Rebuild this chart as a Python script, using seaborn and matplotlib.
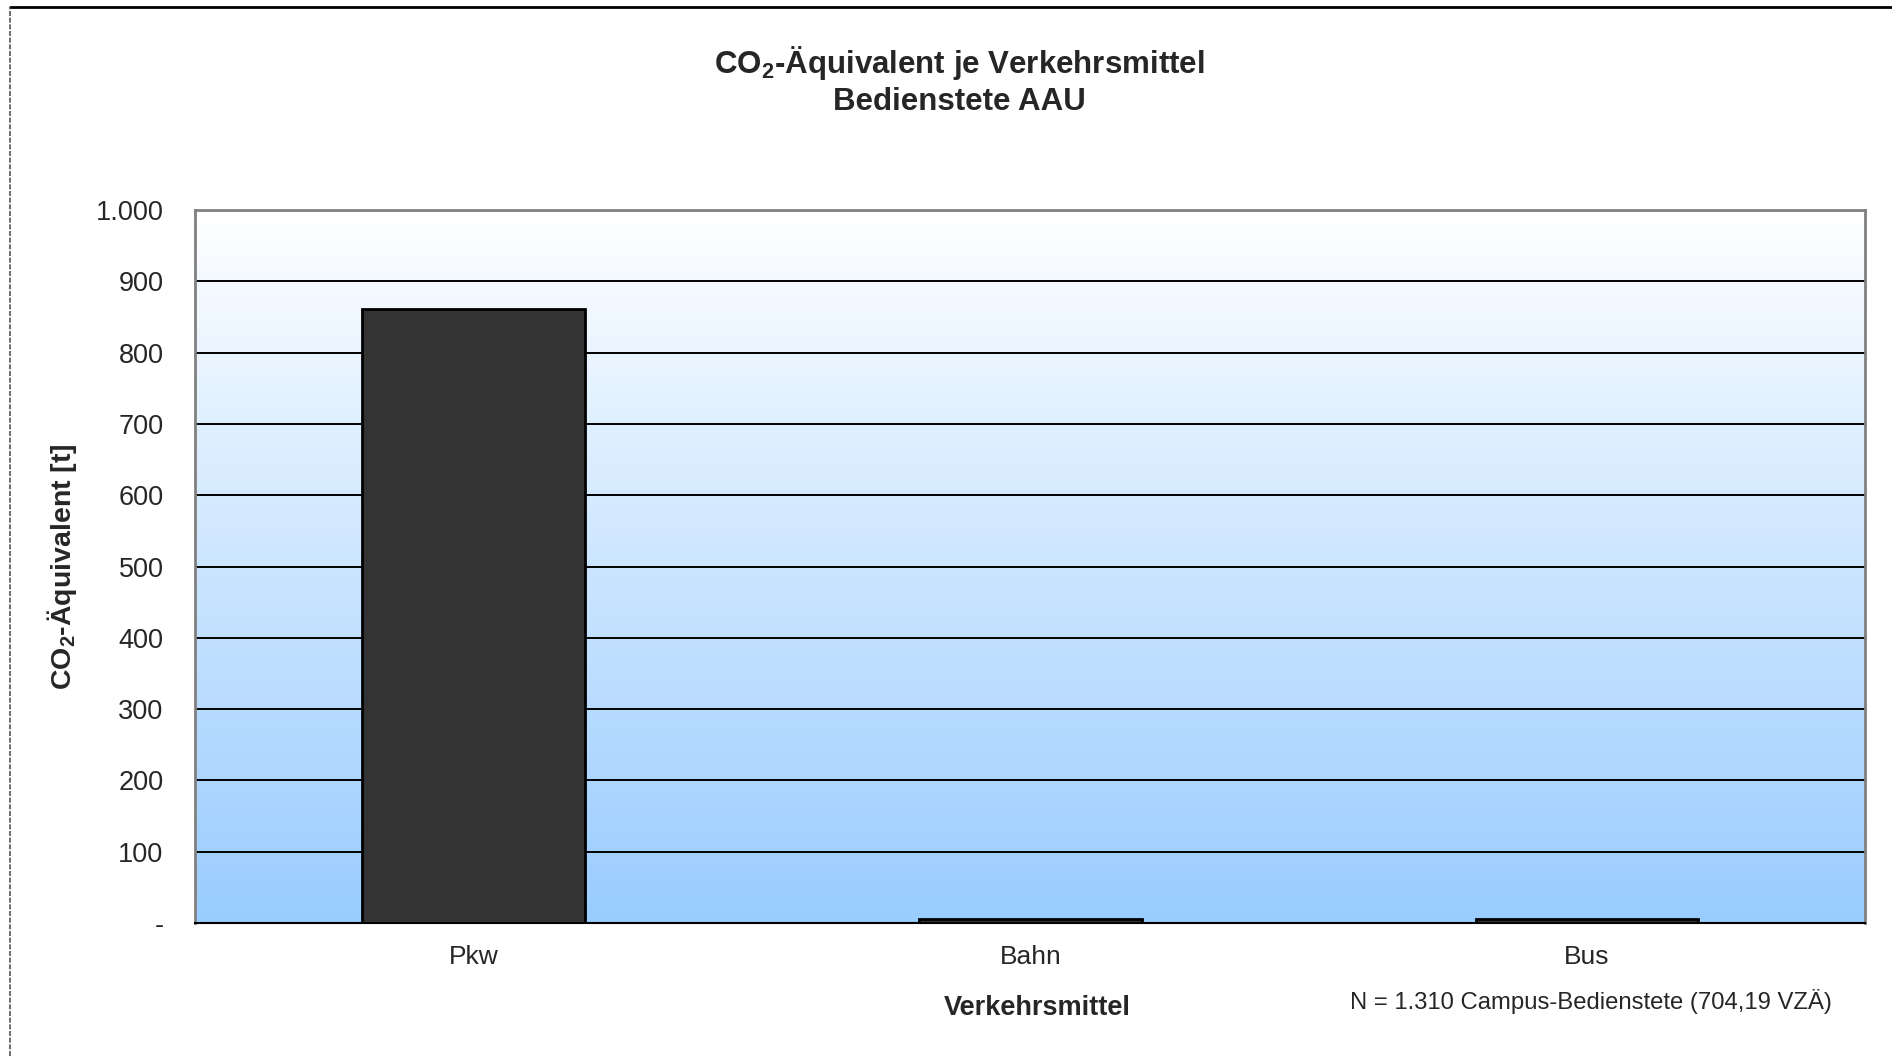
import numpy as np
import pandas as pd
import matplotlib
matplotlib.use("Agg")
import matplotlib.pyplot as plt
from matplotlib.ticker import FuncFormatter, FixedLocator
from matplotlib.lines import Line2D
import seaborn as sns

# Daten
verkehrsmittel = ["Pkw", "Bahn", "Bus"]
co2_tonnen = [862, 5, 5]
y_ticks = [0, 100, 200, 300, 400, 500, 600, 700, 800, 900, 1000]

df = pd.DataFrame({"Verkehrsmittel": verkehrsmittel, "CO2": co2_tonnen})

sns.set_theme(style="white")
plt.rcParams["font.family"] = ["Liberation Sans", "DejaVu Sans"]
plt.rcParams["mathtext.default"] = "regular"

fig = plt.figure(figsize=(18.92, 10.56), dpi=100)
ax = fig.add_axes([0.1033, 0.126, 0.8825, 0.675])

# Hintergrund-Verlauf weiss -> hellblau
grad = np.linspace(0, 1, 256).reshape(-1, 1)
top = np.array([1.0, 1.0, 1.0])
bottom = np.array([153, 204, 255]) / 255
img = top + (bottom - top) * grad[..., None]
ax.imshow(img, extent=[0, 1, 0, 1], transform=ax.transAxes, aspect="auto", zorder=0)

sns.barplot(data=df, x="Verkehrsmittel", y="CO2", color="#333333", width=0.4,
            edgecolor="black", linewidth=2, saturation=1, ax=ax, zorder=3)

ax.set_xlim(-0.5, 2.5)
ax.set_ylim(0, 1000)
ax.yaxis.set_major_locator(FixedLocator(y_ticks))
ax.yaxis.set_major_formatter(FuncFormatter(
    lambda v, p: "-" if v == 0 else f"{int(v):,}".replace(",", ".")))
for yv in y_ticks[1:-1]:
    ax.axhline(yv, color="black", lw=1.4, zorder=1)

ax.set_xticks([0, 1, 2])
ax.set_xticklabels(verkehrsmittel, fontsize=19)
ax.set_xticks([-0.5, 0.5, 1.5, 2.5], minor=True)
ax.tick_params(axis="x", which="major", length=0, pad=16)
ax.tick_params(axis="x", which="minor", length=8, width=1, color="black", direction="out")
ax.tick_params(axis="y", length=8, width=1, color="black", direction="out",
               labelsize=19.5, pad=15)

for s in ["left", "top", "right"]:
    ax.spines[s].set_color("#808080")
    ax.spines[s].set_linewidth(2)
ax.spines["bottom"].set_color("black")
ax.spines["bottom"].set_linewidth(1.5)

ax.set_xlabel("Verkehrsmittel", fontsize=19.5, fontweight="bold")
ax.xaxis.set_label_coords(0.504, -0.101)
ax.set_ylabel("CO$_2$-Äquivalent [t]", fontsize=20.5, fontweight="bold", labelpad=12)

fig.text(0.507, 0.958, "CO$_2$-Äquivalent je Verkehrsmittel\nBedienstete AAU",
         ha="center", va="top", fontsize=22.5, fontweight="bold", linespacing=1.2)
fig.text(0.968, 0.0514, "N = 1.310 Campus-Bedienstete (704,19 VZÄ)", ha="right",
         va="center", fontsize=17.2)

# Rahmen des Diagramms
fig.add_artist(Line2D([0.0055, 1.0], [0.9935, 0.9935], transform=fig.transFigure,
                      color="black", lw=2))
fig.add_artist(Line2D([0.0055, 0.0055], [0.0, 0.9935], transform=fig.transFigure,
                      color="#555555", lw=1.2, ls=(0, (3, 1))))

fig.savefig("out.png", dpi=100)
